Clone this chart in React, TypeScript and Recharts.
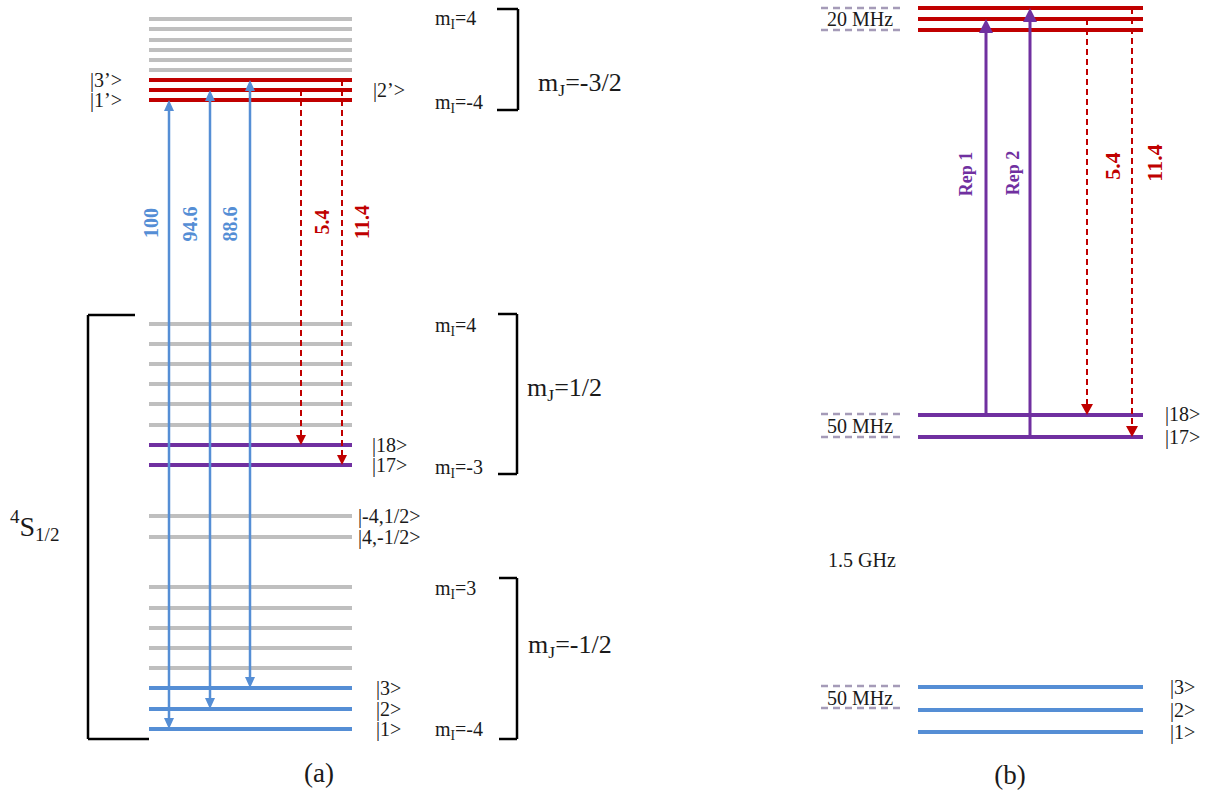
import React from 'react';
import { ComposedChart, XAxis, YAxis, ReferenceLine, Scatter } from 'recharts';

const W = 1209;
const H = 793;

const BLUE = '#558ED5';
const RED = '#C00000';
const PURPLE = '#7030A0';
const GRAY = '#BFBFBF';
const BOX = '#A59BB8';
const INK = '#1a1a1a';
const FONT = '"Liberation Serif", "Times New Roman", serif';

// panel (a) levels, diagram units (0 = top)
const aUpperGray = [19, 29, 40, 50, 60, 70];
const aUpperRed = [80, 90, 100]; // |3'>, |2'>, |1'>
const aMidGray = [324, 344, 364, 384, 404, 425];
const aMidPurple = [445, 465]; // |18>, |17>
const aCrossGray = [516, 537];
const aLowGray = [587, 608, 628, 648, 668];
const aLowBlue = [688, 709, 729]; // |3>, |2>, |1>

// panel (b) levels
const bRed = [8, 19, 30];
const bPurple = [415, 437];
const bBlue = [687, 710, 732];

// x extents of the level bars
const aSpan = [149, 352];
const bSpan = [918, 1143];
const boxSpan = [821, 900];

// transitions
const aPump = [
  { x: 169, from: 729, to: 100, label: '100', lx: 151, ly: 223 },
  { x: 210, from: 709, to: 90, label: '94.6', lx: 190, ly: 224 },
  { x: 250, from: 688, to: 80, label: '88.6', lx: 230, ly: 224 },
];
const aDecay = [
  { x: 301, from: 90, to: 445, label: '5.4', lx: 322, ly: 222 },
  { x: 342, from: 80, to: 465, label: '11.4', lx: 362, ly: 222 },
];
const bRep = [
  { x: 986, from: 415, to: 19, label: 'Rep 1', lx: 966, ly: 174 },
  { x: 1030, from: 437, to: 8, label: 'Rep 2', lx: 1013, ly: 173 },
];
const bDecay = [
  { x: 1087, from: 19, to: 415, label: '5.4', lx: 1112, ly: 166 },
  { x: 1132, from: 8, to: 437, label: '11.4', lx: 1154, ly: 163 },
];

// brackets
const brackets = [
  { x: 518, top: 9, bottom: 110, t1: 497, t2: 497 },
  { x: 517, top: 314, bottom: 474, t1: 498, t2: 498 },
  { x: 517, top: 578, bottom: 739, t1: 499, t2: 499 },
  { x: 88, top: 315, bottom: 739, t1: 135, t2: 149 },
];

type Lbl = { x: number; y: number; t: string; size: number; anchor?: 'start' | 'middle' | 'end'; color?: string; bold?: boolean; rot?: boolean };

const textLabels: Lbl[] = [
  { x: 90, y: 80, t: '|3’>', size: 20 },
  { x: 90, y: 100, t: '|1’>', size: 20 },
  { x: 373, y: 90, t: '|2’>', size: 20 },
  { x: 435, y: 18, t: 'm_{I}=4', size: 20 },
  { x: 435, y: 102, t: 'm_{I}=-4', size: 20 },
  { x: 538, y: 82, t: 'm_{J}=-3/2', size: 26 },
  { x: 435, y: 325, t: 'm_{I}=4', size: 20 },
  { x: 527, y: 387, t: 'm_{J}=1/2', size: 26 },
  { x: 372, y: 445, t: '|18>', size: 20 },
  { x: 372, y: 465, t: '|17>', size: 20 },
  { x: 435, y: 467, t: 'm_{I}=-3', size: 20 },
  { x: 358, y: 516, t: '|-4,1/2>', size: 20 },
  { x: 358, y: 537, t: '|4,-1/2>', size: 20 },
  { x: 435, y: 588, t: 'm_{I}=3', size: 20 },
  { x: 528, y: 644, t: 'm_{J}=-1/2', size: 26 },
  { x: 376, y: 688, t: '|3>', size: 20 },
  { x: 376, y: 709, t: '|2>', size: 20 },
  { x: 376, y: 729, t: '|1>', size: 20 },
  { x: 435, y: 729, t: 'm_{I}=-4', size: 20 },
  { x: 10, y: 526, t: '^{4}S_{1/2}', size: 28 },
  { x: 319, y: 773, t: '(a)', size: 27, anchor: 'middle' },
  { x: 860, y: 19, t: '20 MHz', size: 20, anchor: 'middle' },
  { x: 860, y: 426, t: '50 MHz', size: 20, anchor: 'middle' },
  { x: 862, y: 560, t: '1.5 GHz', size: 20, anchor: 'middle' },
  { x: 860, y: 698, t: '50 MHz', size: 20, anchor: 'middle' },
  { x: 1165, y: 414, t: '|18>', size: 20 },
  { x: 1165, y: 437, t: '|17>', size: 20 },
  { x: 1170, y: 687, t: '|3>', size: 20 },
  { x: 1170, y: 710, t: '|2>', size: 20 },
  { x: 1170, y: 732, t: '|1>', size: 20 },
  { x: 1010, y: 775, t: '(b)', size: 27, anchor: 'middle' },
];

// split "m_{I}=4" into normal / sub / sup pieces
const renderRich = (t: string, fs: number) => {
  const parts = t.split(/(\^\{[^}]*\}|_\{[^}]*\})/).filter((p) => p.length);
  let shift = 0;
  return parts.map((p, i) => {
    let target = 0;
    let txt = p;
    let size = fs;
    if (p.startsWith('_{')) {
      target = fs * 0.3;
      txt = p.slice(2, -1);
      size = fs * 0.68;
    } else if (p.startsWith('^{')) {
      target = -fs * 0.36;
      txt = p.slice(2, -1);
      size = fs * 0.68;
    }
    const dy = target - shift;
    shift = target;
    return (
      <tspan key={i} dy={dy} fontSize={size}>
        {txt}
      </tspan>
    );
  });
};

const LabelShape = (props: any) => {
  const { cx, cy, payload } = props;
  const l: Lbl = payload;
  if (cx == null || cy == null) return null;
  return (
    <text
      x={cx}
      y={cy}
      fontFamily={FONT}
      fontSize={l.size}
      fontWeight={l.bold ? 'bold' : 'normal'}
      fill={l.color || INK}
      stroke="none"
      textAnchor={l.anchor || 'start'}
      dominantBaseline="central"
      transform={l.rot ? `rotate(-90, ${cx}, ${cy})` : undefined}
    >
      {renderRich(l.t, l.size)}
    </text>
  );
};

const arrowShape = (color: string, width: number, dashed: boolean, both: boolean, hl: number, hw: number) => (props: any) => {
  const { x1, y1, x2, y2 } = props;
  const dir = Math.sign(y2 - y1);
  const a = both ? y1 + dir * hl : y1;
  const b = y2 - dir * hl;
  return (
    <g>
      <line x1={x1} y1={a} x2={x2} y2={b} stroke={color} strokeWidth={width} strokeDasharray={dashed ? '6 4' : undefined} />
      <polygon points={`${x2},${y2} ${x2 - hw / 2},${y2 - dir * hl} ${x2 + hw / 2},${y2 - dir * hl}`} fill={color} />
      {both && <polygon points={`${x1},${y1} ${x1 - hw / 2},${y1 + dir * hl} ${x1 + hw / 2},${y1 + dir * hl}`} fill={color} />}
    </g>
  );
};

const levels = (ys: number[], span: number[], color: string, key: string) =>
  ys.map((y, i) => (
    <ReferenceLine
      key={`${key}-${i}`}
      segment={[{ x: span[0], y }, { x: span[1], y }]}
      stroke={color}
      strokeWidth={4}
      ifOverflow="visible"
    />
  ));

const arrowSets = [
  { list: aPump, color: BLUE, w: 2.5, dashed: false, both: true, hl: 11, hw: 10, fs: 20 },
  { list: aDecay, color: RED, w: 2, dashed: true, both: false, hl: 10, hw: 10, fs: 20 },
  { list: bRep, color: PURPLE, w: 3, dashed: false, both: false, hl: 14, hw: 14, fs: 18 },
  { list: bDecay, color: RED, w: 2, dashed: true, both: false, hl: 11, hw: 12, fs: 22 },
];

const arrowLabels: Lbl[] = arrowSets.flatMap((s) =>
  s.list.map((a) => ({ x: a.lx, y: a.ly, t: a.label, size: s.fs, anchor: 'middle' as const, color: s.color, bold: true, rot: true }))
);

const App = () => {
  return (
    <div style={{ position: 'absolute', left: 0, top: 0, width: W, height: H, background: '#fff' }}>
      <ComposedChart width={W} height={H} margin={{ top: 0, right: 0, bottom: 0, left: 0 }}>
        <XAxis type="number" dataKey="x" domain={[0, W]} allowDataOverflow hide />
        <YAxis type="number" dataKey="y" domain={[0, H]} allowDataOverflow reversed hide />

        {levels(aUpperGray, aSpan, GRAY, 'ug')}
        {levels(aUpperRed, aSpan, RED, 'ur')}
        {levels(aMidGray, aSpan, GRAY, 'mg')}
        {levels(aMidPurple, aSpan, PURPLE, 'mp')}
        {levels(aCrossGray, aSpan, GRAY, 'cg')}
        {levels(aLowGray, aSpan, GRAY, 'lg')}
        {levels(aLowBlue, aSpan, BLUE, 'lb')}
        {levels(bRed, bSpan, RED, 'br')}
        {levels(bPurple, bSpan, PURPLE, 'bp')}
        {levels(bBlue, bSpan, BLUE, 'bb')}

        {[bRed[0], bRed[2], bPurple[0] - 1, bPurple[1], bBlue[0] - 1, bBlue[1] - 2].map((y, i) => (
          <ReferenceLine
            key={`box-${i}`}
            segment={[{ x: boxSpan[0], y }, { x: boxSpan[1], y }]}
            stroke={BOX}
            strokeWidth={2.5}
            strokeDasharray="7 5"
            ifOverflow="visible"
          />
        ))}

        {brackets.flatMap((b, i) => [
          <ReferenceLine key={`bv-${i}`} segment={[{ x: b.x, y: b.top }, { x: b.x, y: b.bottom }]} stroke="#000" strokeWidth={2.5} ifOverflow="visible" />,
          <ReferenceLine key={`bt-${i}`} segment={[{ x: b.t1, y: b.top }, { x: b.x, y: b.top }]} stroke="#000" strokeWidth={2.5} ifOverflow="visible" />,
          <ReferenceLine key={`bb-${i}`} segment={[{ x: b.t2, y: b.bottom }, { x: b.x, y: b.bottom }]} stroke="#000" strokeWidth={2.5} ifOverflow="visible" />,
        ])}

        {arrowSets.flatMap((s, si) =>
          s.list.map((a, i) => (
            <ReferenceLine
              key={`ar-${si}-${i}`}
              segment={[{ x: a.x, y: a.from }, { x: a.x, y: a.to }]}
              stroke={s.color}
              ifOverflow="visible"
              shape={arrowShape(s.color, s.w, s.dashed, s.both, s.hl, s.hw)}
            />
          ))
        )}

        <Scatter data={arrowLabels} dataKey="y" shape={LabelShape} isAnimationActive={false} />
        <Scatter data={textLabels} dataKey="y" shape={LabelShape} isAnimationActive={false} />
      </ComposedChart>
    </div>
  );
};

export default App;
